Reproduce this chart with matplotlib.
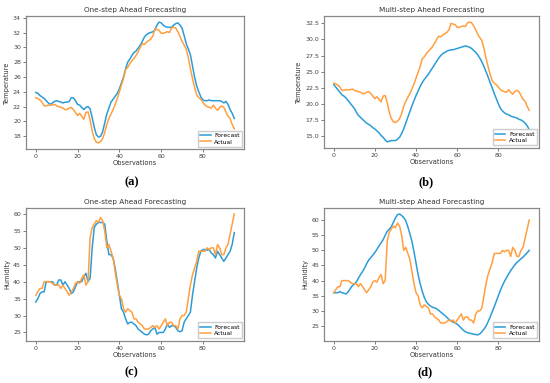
import numpy as np
import matplotlib
matplotlib.use("Agg")
from matplotlib import pyplot as plt

# observations 0..95
obs = np.arange(96)

temp_actual = [
    23.2, 23.1, 22.9, 22.6, 22.1, 22.1, 22.2, 22.2, 22.2, 22.3,
    22.1, 22.0, 21.9, 21.8, 21.6, 21.6, 21.8, 21.9, 21.6, 21.2,
    20.8, 21.1, 20.7, 20.3, 21.2, 21.3, 20.2, 18.7, 17.7, 17.2,
    17.1, 17.3, 17.7, 18.5, 19.6, 20.4, 21.0, 21.6, 22.3, 23.1,
    24.0, 24.9, 25.8, 27.0, 27.3, 27.8, 28.2, 28.5, 28.9, 29.4,
    30.0, 30.5, 30.4, 30.7, 30.9, 31.1, 31.5, 32.5, 32.4, 32.3,
    31.9, 31.9, 32.0, 32.1, 32.0, 32.6, 32.7, 32.6, 32.1, 31.5,
    30.8, 30.3, 29.8, 28.6, 27.1, 25.8, 24.6, 23.6, 23.2, 23.0,
    22.6, 22.2, 22.0, 21.9, 21.8, 22.2, 21.8, 21.5, 21.9, 22.1,
    21.9, 21.3, 20.7, 20.4, 19.6, 19.0]

temp_one_step = [
    23.9, 23.8, 23.5, 23.3, 23.1, 22.8, 22.5, 22.3, 22.5, 22.7,
    22.8, 22.7, 22.6, 22.5, 22.6, 22.6, 22.7, 23.2, 23.2, 22.8,
    22.3, 22.2, 21.9, 21.6, 21.9, 22.0, 21.7, 20.5, 19.2, 18.2,
    17.9, 18.0, 18.6, 19.8, 21.0, 21.8, 22.6, 23.0, 23.4, 23.8,
    24.4, 25.2, 26.0, 27.1, 28.0, 28.4, 28.9, 29.3, 29.5, 29.9,
    30.3, 30.8, 31.4, 31.7, 31.9, 32.0, 32.1, 32.3, 33.0, 33.4,
    33.3, 33.0, 32.8, 32.7, 32.7, 32.7, 33.0, 33.2, 33.3, 33.0,
    32.6, 31.6, 30.5, 29.8, 29.0, 27.5, 26.0, 24.8, 24.0, 23.3,
    22.9, 22.8, 22.8, 22.9, 22.8, 22.8, 22.8, 22.8, 22.8, 22.7,
    22.5, 22.7, 22.3, 21.6, 21.1, 20.4]

temp_multi_step = [
    23.0, 22.6, 22.2, 21.8, 21.4, 21.2, 20.9, 20.5, 20.1, 19.7,
    19.3, 18.7, 18.2, 17.9, 17.6, 17.3, 17.0, 16.8, 16.6, 16.3,
    16.1, 15.8, 15.5, 15.1, 14.8, 14.4, 14.1, 14.2, 14.3, 14.3,
    14.3, 14.5, 14.8, 15.4, 16.1, 17.0, 17.9, 18.8, 19.7, 20.5,
    21.3, 22.0, 22.7, 23.3, 23.8, 24.2, 24.6, 25.1, 25.6, 26.1,
    26.6, 27.1, 27.5, 27.8, 28.0, 28.2, 28.3, 28.4, 28.4, 28.5,
    28.6, 28.7, 28.8, 28.9, 29.0, 28.9, 28.8, 28.6, 28.3, 28.0,
    27.6, 27.1, 26.5, 25.8, 25.0, 24.2, 23.3, 22.5, 21.6, 20.8,
    20.0, 19.3, 18.9, 18.6, 18.4, 18.3, 18.1, 18.0, 17.9, 17.8,
    17.6, 17.5, 17.3, 17.0, 16.6, 16.0]

hum_actual = [
    36.0, 37.0, 38.0, 38.0, 40.0, 40.0, 40.0, 40.0, 39.5, 39.0,
    39.0, 39.0, 38.0, 39.0, 38.0, 37.0, 36.0, 37.0, 38.0, 39.5,
    40.0, 39.5, 41.0, 42.0, 39.0, 40.0, 53.0, 56.0, 57.0, 58.0,
    57.5, 59.0, 58.0, 55.0, 50.0, 51.0, 49.0, 47.0, 43.0, 39.0,
    36.0, 35.0, 32.0, 31.0, 32.0, 31.5, 31.0, 29.0, 29.0, 28.0,
    27.5, 27.0, 26.0, 26.0, 26.0, 26.5, 27.0, 26.5, 27.0, 26.0,
    27.0, 28.0, 29.0, 27.0, 28.0, 28.0, 27.0, 27.0, 26.0, 29.0,
    30.0, 30.0, 31.0, 35.0, 39.0, 42.0, 44.0, 46.0, 49.0, 49.0,
    49.0, 49.0, 50.0, 49.5, 50.0, 50.0, 48.0, 51.0, 50.0, 48.0,
    48.0, 50.0, 51.0, 54.0, 57.0, 60.0]

hum_one_step = [
    34.0, 35.0, 36.5, 37.0, 37.0, 40.0, 40.0, 40.0, 40.0, 39.0,
    39.0, 40.5, 40.5, 39.0, 40.0, 39.0, 38.0, 36.5, 37.0, 38.5,
    40.0, 40.0, 40.0, 41.5, 42.5, 40.0, 41.0, 50.0, 56.0, 57.0,
    57.5, 57.5, 57.5, 57.0, 52.0, 48.0, 48.0, 47.0, 44.0, 40.0,
    36.0, 32.0, 31.0, 29.0, 27.5, 28.0, 28.0, 27.5, 27.0, 26.0,
    25.5, 25.0, 24.5, 24.3, 24.5, 25.5, 26.0, 26.5, 24.5, 25.0,
    25.0, 25.0, 26.0, 27.5, 26.5, 27.0, 27.0, 26.5, 25.5, 25.2,
    25.5, 28.0, 29.0, 30.0, 31.0, 36.0, 40.0, 44.0, 47.0, 49.0,
    49.5, 49.5, 49.3, 49.5, 48.5, 48.0, 47.0, 49.0, 48.0, 47.0,
    46.0, 47.0, 48.0, 49.0, 51.0, 54.5]

hum_multi_step = [
    36.0, 36.0, 36.0, 36.4, 36.0, 35.8, 35.6, 36.3, 37.3, 38.3,
    38.9, 39.6, 40.8, 42.0, 43.0, 44.2, 45.6, 46.8, 47.6, 48.4,
    49.3, 50.3, 51.5, 52.5, 53.5, 55.0, 56.3, 57.0, 57.8, 59.3,
    60.7, 61.8, 62.0, 61.5, 60.8, 59.8, 57.8, 55.5, 53.0, 49.5,
    45.8, 42.0, 39.0, 36.5, 34.5, 33.0, 32.2, 31.6, 31.2, 31.0,
    30.7, 30.2, 29.6, 29.0, 28.5, 27.8, 27.2, 26.7, 26.3, 26.0,
    25.6, 25.0, 24.3, 23.6, 23.1, 22.8, 22.6, 22.5, 22.3, 22.2,
    22.1, 22.4, 23.1, 24.0, 25.0, 26.4, 28.0, 29.7, 31.4, 33.2,
    35.0, 36.8, 38.4, 39.8, 41.0, 42.2, 43.3, 44.3, 45.2, 46.0,
    46.6, 47.2, 47.8, 48.5, 49.2, 50.0]

panels = [
    ("One-step Ahead Forecasting", "Temperature", temp_one_step, temp_actual, "(a)"),
    ("Multi-step Ahead Forecasting", "Temperature", temp_multi_step, temp_actual, "(b)"),
    ("One-step Ahead Forecasting", "Humidity", hum_one_step, hum_actual, "(c)"),
    ("Multi-step Ahead Forecasting", "Humidity", hum_multi_step, hum_actual, "(d)"),
]

# axes rectangles [left, bottom, width, height] in figure fraction
rects = [
    [0.047, 0.611, 0.397, 0.347],
    [0.589, 0.614, 0.391, 0.344],
    [0.047, 0.110, 0.397, 0.347],
    [0.589, 0.110, 0.391, 0.347],
]
label_pos = [(0.239, 0.525), (0.774, 0.525), (0.239, 0.027), (0.773, 0.027)]

fig = plt.figure(figsize=(5.5, 3.83), dpi=100)

for (title, ylab, fc, act, tag), rect, lp in zip(panels, rects, label_pos):
    ax = fig.add_axes(rect)
    ax.plot(obs, fc, color="#2b9cd8", lw=1.1, label="Forecast")
    ax.plot(obs, act, color="#ff9f40", lw=1.1, label="Actual")
    ax.set_title(title, fontsize=5.2, pad=3, color="#333333")
    ax.set_xlabel("Observations", fontsize=4.8, labelpad=1, color="#333333")
    ax.set_ylabel(ylab, fontsize=4.8, labelpad=2, color="#333333")
    ax.tick_params(labelsize=4.5, length=2, width=0.5, pad=1.5, colors="#444444")
    for s in ax.spines.values():
        s.set_color("#888888")
        s.set_linewidth(0.9)
    ax.legend(loc="lower right", fontsize=4.3, handlelength=1.7, handletextpad=0.6,
              borderpad=0.35, labelspacing=0.25, borderaxespad=0.4, framealpha=1,
              edgecolor="#cccccc", fancybox=False)
    fig.text(lp[0], lp[1], tag, ha="center", va="center", fontsize=9,
             fontweight="bold", family="Liberation Serif")

fig.savefig("out.png", dpi=100)
